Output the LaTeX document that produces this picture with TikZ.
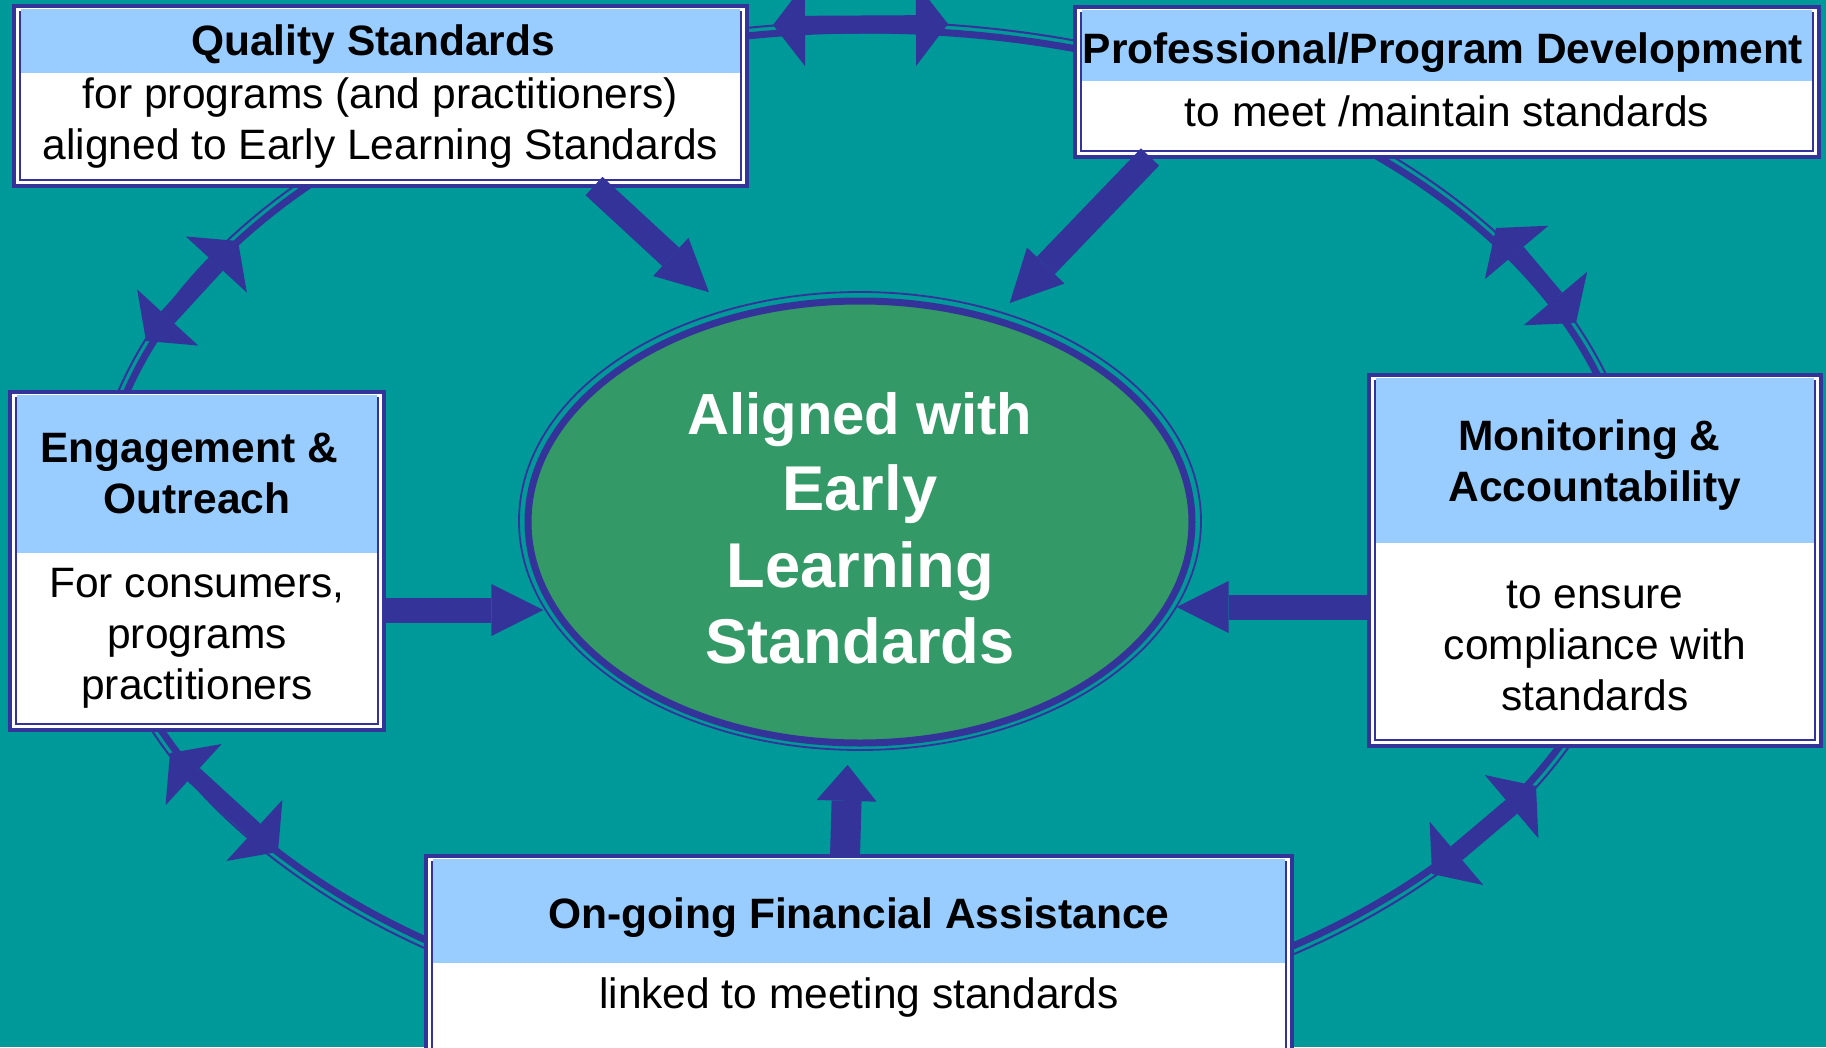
\documentclass[tikz,border=0pt]{standalone}
\usepackage{fontspec}
\setmainfont{Liberation Sans}
\usetikzlibrary{arrows.meta,shapes.geometric}

\definecolor{seateal}{HTML}{009999}
\definecolor{ringblue}{HTML}{333399}
\definecolor{leafgreen}{HTML}{339966}
\definecolor{skyband}{HTML}{99CCFF}

\tikzset{
  panel/.style={rectangle, draw=ringblue, line width=4pt, fill=white, inner sep=0pt, outer sep=0pt},
  rim/.style={draw=ringblue, line width=2pt},
  band/.style={fill=skyband},
  headtext/.style={anchor=north, inner sep=0pt, align=center, font=\bfseries\fontsize{42.5}{51}\selectfont},
  bodytext/.style={anchor=north, inner sep=0pt, align=center, font=\fontsize{42.5}{51}\selectfont},
  coretext/.style={anchor=north, inner sep=0pt, align=center, text=white, font=\bfseries\fontsize{63.3}{76.5}\selectfont},
  fatarrow/.style={draw=ringblue, line width=25pt, -{Triangle[width=52pt,length=52pt,line width=0pt]}},
  ringarrow/.style={draw=ringblue, line width=18pt, {Triangle[width=83pt,length=32pt,line width=0pt]}-{Triangle[width=83pt,length=32pt,line width=0pt]}},
}

\begin{document}
\begin{tikzpicture}[x=1pt, y=-1pt]
        \useasboundingbox (0,0) rectangle (1826,1047);
        \fill[seateal] (0,0) rectangle (1826,1047);

        % the cycle behind the boxes
        \draw[ringblue, line width=7pt] (866,530) ellipse [x radius=769pt, y radius=500pt];
        \draw[ringblue, line width=2pt] (866,530) ellipse [x radius=777pt, y radius=508pt];

        \coordinate (qp1) at (773,25);
        \coordinate (qp2) at (948,24);
        \coordinate (pm1) at (1496,228);
        \coordinate (pm2) at (1576,323);
        \coordinate (mf1) at (1536,786);
        \coordinate (mf2) at (1432,874);
        \coordinate (fe1) at (278,852);
        \coordinate (fe2) at (170,753);
        \coordinate (eq1) at (146,341);
        \coordinate (eq2) at (238,241);

        \draw[ringarrow] (qp1) -- (qp2);
        \draw[ringarrow] (pm1) -- (pm2);
        \draw[ringarrow] (mf1) -- (mf2);
        \draw[ringarrow] (fe1) -- (fe2);
        \draw[ringarrow] (eq1) -- (eq2);

        % boxes
        \node[panel, minimum width=733pt, minimum height=180pt] (qual) at (380.5,96) {};
        \node[panel, minimum width=744pt, minimum height=150pt] (prof) at (1447,82) {};
        \node[panel, minimum width=374pt, minimum height=338pt] (engage) at (197,561) {};
        \node[panel, minimum width=452pt, minimum height=371pt] (monit) at (1595,560.5) {};
        \node[panel, minimum width=866pt, minimum height=204pt] (fin) at (859,958) {};

        \draw[rim] ([shift={(6pt,-6pt)}]qual.north west) rectangle ([shift={(-6pt,6pt)}]qual.south east);
        \draw[rim] ([shift={(6pt,-6pt)}]prof.north west) rectangle ([shift={(-6pt,6pt)}]prof.south east);
        \draw[rim] ([shift={(6pt,-6pt)}]engage.north west) rectangle ([shift={(-6pt,6pt)}]engage.south east);
        \draw[rim] ([shift={(6pt,-6pt)}]monit.north west) rectangle ([shift={(-6pt,6pt)}]monit.south east);
        \draw[rim] ([shift={(6pt,-6pt)}]fin.north west) rectangle ([shift={(-6pt,6pt)}]fin.south east);

        \fill[band] ([shift={(7pt,-3pt)}]qual.north west) rectangle ([shift={(-7pt,-67pt)}]qual.north east);
        \fill[band] ([shift={(7pt,-3pt)}]prof.north west) rectangle ([shift={(-7pt,-74pt)}]prof.north east);
        \fill[band] ([shift={(7pt,-3pt)}]engage.north west) rectangle ([shift={(-7pt,-161pt)}]engage.north east);
        \fill[band] ([shift={(7pt,-3pt)}]monit.north west) rectangle ([shift={(-7pt,-168pt)}]monit.north east);
        \fill[band] ([shift={(7pt,-3pt)}]fin.north west) rectangle ([shift={(-7pt,-107pt)}]fin.north east);

        \node[headtext] (qualT) at (373,19.3) {\strut Quality Standards};
        \node[bodytext] (qualB) at (380.5,72.3) {\strut for programs (and practitioners)\\aligned to Early Learning Standards};
        \node[headtext] (profT) at (1443,27.3) {\strut Professional/Program Development};
        \node[bodytext] (profB) at (1447,90.3) {\strut to meet /maintain standards};
        \node[headtext] (engageT) at (197,426.3) {\strut Engagement \&\hspace*{16pt}\\Outreach};
        \node[bodytext] (engageB) at (197,561.3) {\strut For consumers,\\programs\\practitioners};
        \node[headtext] (monitT) at (1595,414.3) {\strut Monitoring \&\hspace*{11pt}\\Accountability};
        \node[bodytext] (monitB) at (1595,572.3) {\strut to ensure\\compliance with\\standards};
        \node[headtext] (finT) at (859,892.3) {\strut On-going Financial Assistance};
        \node[bodytext] (finB) at (859,972.3) {\strut linked to meeting standards};

        % centre
        \node[ellipse, draw=ringblue, line width=1.8pt, minimum width=682pt, minimum height=458pt, inner sep=0pt, outer sep=0pt] (ells) at (860,521) {};
        \draw[ringblue, line width=7pt, fill=leafgreen] ([yshift=-1pt]ells.center) ellipse [x radius=332pt, y radius=221pt];
        \node[coretext] (core) at (860,380.5) {\strut{\fontsize{58}{76.5}\selectfont Aligned with}\\Early\\Learning\\Standards};

        % arrows into the centre
        \draw[fatarrow, shorten >=26pt] ([xshift=213.5pt]qual.south) -- (ells.122.5);
        \draw[fatarrow, shorten >=13pt] ([xshift=-297pt]prof.south) -- (ells.56.9);
        \draw[fatarrow] ([yshift=-49pt]engage.east) -- ([yshift=-49pt]engage.east -| ells.195.8);
        \draw[fatarrow] ([yshift=-46.5pt]monit.west) -- ([yshift=-46.5pt]monit.west -| ells.-15.2);
        \draw[draw=ringblue, line width=30pt, -{Triangle[width=60pt,length=36pt,line width=0pt]}, shorten >=15pt] ([xshift=-14pt]fin.north) -- (ells.-93.75);
      \end{tikzpicture}
\end{document}
